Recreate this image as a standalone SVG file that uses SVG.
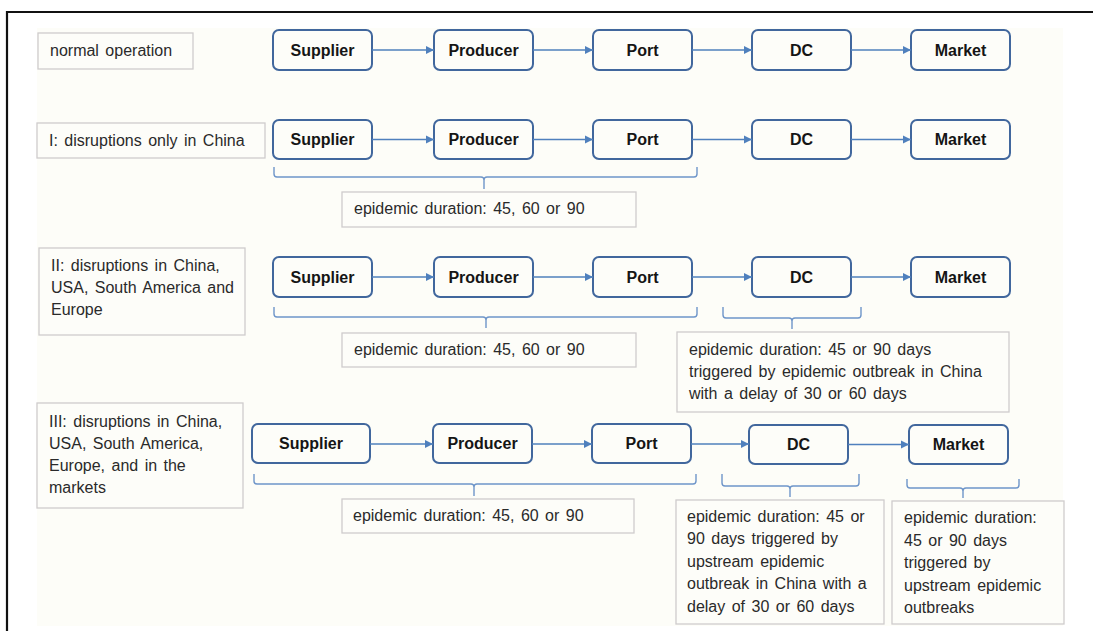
<svg xmlns="http://www.w3.org/2000/svg" width="1097" height="631" viewBox="0 0 1097 631">
<style>
.node{fill:#fdfdf9;stroke:#41679d;stroke-width:2}
.nt{font-family:"Liberation Sans",Arial,sans-serif;font-weight:bold;font-size:16px;fill:#151515;text-anchor:middle}
.lb{fill:#fdfdf9;stroke:#cfcccc;stroke-width:1.3}
.tx{font-family:"Liberation Sans",Arial,sans-serif;font-size:16px;word-spacing:2px;fill:#2a2a2a}
.ar{stroke:#4f80bd;stroke-width:1.4;fill:none;marker-end:url(#ah)}
.br{stroke:#6e95c9;stroke-width:1.4;fill:none}
</style>
<defs>
<marker id="ah" viewBox="0 0 10 10" refX="10" refY="5" markerWidth="6" markerHeight="6" orient="auto" markerUnits="strokeWidth">
<path d="M0,0 L10,5 L0,10 z" fill="#4f80bd"/>
</marker>
</defs>
<rect x="0" y="0" width="1097" height="631" fill="#ffffff"/>
<rect x="37" y="28" width="1026" height="598" fill="#fdfdf8"/>
<path d="M7,631 V12 H1093" fill="none" stroke="#111" stroke-width="2.2"/>

<!-- labels -->
<g id="label-normal"><rect class="lb" x="38" y="33" width="155" height="36"/><text class="tx" x="50" y="56">normal operation</text></g>
<g id="label-I"><rect class="lb" x="37" y="123" width="228" height="35"/><text class="tx" x="49" y="146">I: disruptions only in China</text></g>
<g id="label-II"><rect class="lb" x="39" y="248" width="206" height="87"/><text class="tx" x="51" y="271">II: disruptions in China,</text><text class="tx" x="51" y="293">USA, South America and</text><text class="tx" x="51" y="315">Europe</text></g>
<g id="label-III"><rect class="lb" x="37" y="403" width="206" height="105"/><text class="tx" x="49" y="427">III: disruptions in China,</text><text class="tx" x="49" y="449">USA, South America,</text><text class="tx" x="49" y="471">Europe, and in the</text><text class="tx" x="49" y="493">markets</text></g>

<!-- row 1 -->
<g id="r1-supplier"><rect class="node" x="273" y="30" width="99" height="40" rx="6"/><text class="nt" x="322.5" y="55.5">Supplier</text></g>
<g id="r1-producer"><rect class="node" x="434" y="30" width="99" height="40" rx="6"/><text class="nt" x="483.5" y="55.5">Producer</text></g>
<g id="r1-port"><rect class="node" x="593" y="30" width="99" height="40" rx="6"/><text class="nt" x="642.5" y="55.5">Port</text></g>
<g id="r1-dc"><rect class="node" x="752" y="30" width="99" height="40" rx="6"/><text class="nt" x="801.5" y="55.5">DC</text></g>
<g id="r1-market"><rect class="node" x="911" y="30" width="99" height="40" rx="6"/><text class="nt" x="960.5" y="55.5">Market</text></g>

<!-- row 2 -->
<g id="r2-supplier"><rect class="node" x="273" y="120" width="99" height="39" rx="6"/><text class="nt" x="322.5" y="145">Supplier</text></g>
<g id="r2-producer"><rect class="node" x="434" y="120" width="99" height="39" rx="6"/><text class="nt" x="483.5" y="145">Producer</text></g>
<g id="r2-port"><rect class="node" x="593" y="120" width="99" height="39" rx="6"/><text class="nt" x="642.5" y="145">Port</text></g>
<g id="r2-dc"><rect class="node" x="752" y="120" width="99" height="39" rx="6"/><text class="nt" x="801.5" y="145">DC</text></g>
<g id="r2-market"><rect class="node" x="911" y="120" width="99" height="39" rx="6"/><text class="nt" x="960.5" y="145">Market</text></g>
<g id="r2-note"><rect class="lb" x="342" y="192" width="294" height="35"/><text class="tx" x="354" y="214">epidemic duration: 45, 60 or 90</text></g>

<!-- row 3 -->
<g id="r3-supplier"><rect class="node" x="273" y="257" width="99" height="40" rx="6"/><text class="nt" x="322.5" y="282.5">Supplier</text></g>
<g id="r3-producer"><rect class="node" x="434" y="257" width="99" height="40" rx="6"/><text class="nt" x="483.5" y="282.5">Producer</text></g>
<g id="r3-port"><rect class="node" x="593" y="257" width="99" height="40" rx="6"/><text class="nt" x="642.5" y="282.5">Port</text></g>
<g id="r3-dc"><rect class="node" x="752" y="257" width="99" height="40" rx="6"/><text class="nt" x="801.5" y="282.5">DC</text></g>
<g id="r3-market"><rect class="node" x="911" y="257" width="99" height="40" rx="6"/><text class="nt" x="960.5" y="282.5">Market</text></g>
<g id="r3-note1"><rect class="lb" x="342" y="333" width="294" height="34"/><text class="tx" x="354" y="355">epidemic duration: 45, 60 or 90</text></g>
<g id="r3-note2"><rect class="lb" x="677" y="332" width="332" height="80"/><text class="tx" x="689" y="355">epidemic duration: 45 or 90 days</text><text class="tx" x="689" y="377">triggered by epidemic outbreak in China</text><text class="tx" x="689" y="399">with a delay of 30 or 60 days</text></g>

<!-- row 4 -->
<g id="r4-supplier"><rect class="node" x="252" y="424" width="118" height="39" rx="6"/><text class="nt" x="311" y="449">Supplier</text></g>
<g id="r4-producer"><rect class="node" x="433" y="424" width="99" height="39" rx="6"/><text class="nt" x="482.5" y="449">Producer</text></g>
<g id="r4-port"><rect class="node" x="592" y="424" width="99" height="39" rx="6"/><text class="nt" x="641.5" y="449">Port</text></g>
<g id="r4-dc"><rect class="node" x="749" y="425" width="99" height="39" rx="6"/><text class="nt" x="798.5" y="450">DC</text></g>
<g id="r4-market"><rect class="node" x="909" y="425" width="99" height="39" rx="6"/><text class="nt" x="958.5" y="450">Market</text></g>
<g id="r4-note1"><rect class="lb" x="342" y="499" width="292" height="34"/><text class="tx" x="353" y="521">epidemic duration: 45, 60 or 90</text></g>
<g id="r4-note2"><rect class="lb" x="676" y="500" width="208" height="124"/><text class="tx" x="687" y="522">epidemic duration: 45 or</text><text class="tx" x="687" y="544">90 days triggered by</text><text class="tx" x="687" y="567">upstream epidemic</text><text class="tx" x="687" y="589">outbreak in China with a</text><text class="tx" x="687" y="612">delay of 30 or 60 days</text></g>
<g id="r4-note3"><rect class="lb" x="892" y="501" width="172" height="123"/><text class="tx" x="904" y="523">epidemic duration:</text><text class="tx" x="904" y="546">45 or 90 days</text><text class="tx" x="904" y="568">triggered by</text><text class="tx" x="904" y="591">upstream epidemic</text><text class="tx" x="904" y="613">outbreaks</text></g>

<g id="connectors">
<line class="ar" x1="372" y1="50" x2="434" y2="50"/>
<line class="ar" x1="533" y1="50" x2="593" y2="50"/>
<line class="ar" x1="692" y1="50" x2="752" y2="50"/>
<line class="ar" x1="851" y1="50" x2="911" y2="50"/>
<line class="ar" x1="372" y1="139.5" x2="434" y2="139.5"/>
<line class="ar" x1="533" y1="139.5" x2="593" y2="139.5"/>
<line class="ar" x1="692" y1="139.5" x2="752" y2="139.5"/>
<line class="ar" x1="851" y1="139.5" x2="911" y2="139.5"/>
<line class="ar" x1="372" y1="277" x2="434" y2="277"/>
<line class="ar" x1="533" y1="277" x2="593" y2="277"/>
<line class="ar" x1="692" y1="277" x2="752" y2="277"/>
<line class="ar" x1="851" y1="277" x2="911" y2="277"/>
<line class="ar" x1="370" y1="444" x2="433" y2="444"/>
<line class="ar" x1="532" y1="444" x2="592" y2="444"/>
<line class="ar" x1="691" y1="444" x2="749" y2="444"/>
<line class="ar" x1="848" y1="444.5" x2="909" y2="444.5"/>
</g>
<g id="braces">
<path class="br" d="M274,167 V174 Q274,177 277,177 H481 Q484,177 484,180 V189 M484,180 Q484,177 487,177 H694 Q697,177 697,174 V167"/>
<path class="br" d="M274,307 V314 Q274,317 277,317 H483 Q486,317 486,320 V328 M486,320 Q486,317 489,317 H694 Q697,317 697,314 V307"/>
<path class="br" d="M723,307 V315 Q723,318 726,318 H789 Q792,318 792,321 V329 M792,321 Q792,318 795,318 H858 Q861,318 861,315 V307"/>
<path class="br" d="M254,474 V481 Q254,484 257,484 H471 Q474,484 474,487 V496 M474,487 Q474,484 477,484 H693 Q696,484 696,481 V474"/>
<path class="br" d="M722,474 V483 Q722,486 725,486 H787 Q790,486 790,489 V497 M790,489 Q790,486 793,486 H856 Q859,486 859,483 V474"/>
<path class="br" d="M907,479 V485 Q907,488 910,488 H960 Q963,488 963,491 V498 M963,491 Q963,488 966,488 H1016 Q1019,488 1019,485 V479"/>
</g>
</svg>
